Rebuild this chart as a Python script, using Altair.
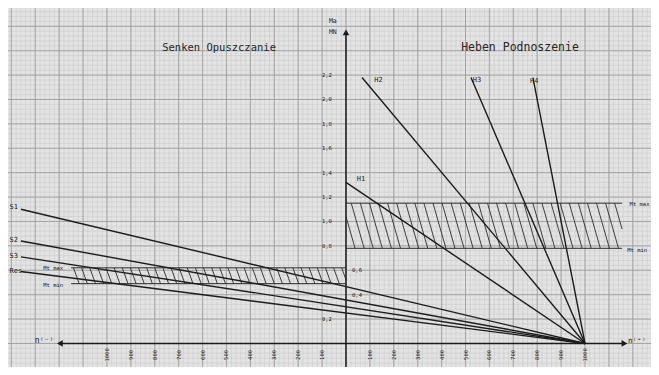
import altair as alt
import numpy as np
import pandas as pd

# ---- data ----
line_names = ["S1", "S2", "S3", "Res.", "H1", "H2", "H3", "H4"]
line_n0 = [-1360, -1360, -1360, -1360, 0, 67, 523, 782]
line_m0 = [1.10, 0.84, 0.71, 0.59, 1.32, 2.18, 2.18, 2.18]
line_n1 = [1000, 1000, 1000, 1000, 1000, 1000, 1000, 1000]
line_m1 = [0, 0, 0, 0, 0, 0, 0, 0]

# line labels
lab_text = ["S1", "S2", "S3", "Res.", "H1", "H2", "H3", "H4"]
lab_n = [-1408, -1408, -1408, -1408, 45, 118, 530, 770]
lab_m = [1.12, 0.85, 0.72, 0.595, 1.35, 2.16, 2.16, 2.15]

# bands (n from, n to, Mmin, Mmax)
band_s = [-1150, 0, 0.49, 0.62]
band_h = [0, 1155, 0.78, 1.15]
band_lab_text = ["Mt max", "Mt min", "Mt max", "Mt min"]
band_lab_n = [-1225, -1225, 1228, 1218]
band_lab_m = [0.62, 0.48, 1.14, 0.765]

# axis tick labels
x_tick_vals = [-1000, -900, -800, -700, -600, -500, -400, -300, -200, -100,
               100, 200, 300, 400, 500, 600, 700, 800, 900, 1000]
x_tick_labels = ["1000", "900", "800", "700", "600", "500", "400", "300", "200", "100",
                 "100", "200", "300", "400", "500", "600", "700", "800", "900", "1000"]
y_tick_vals = [2.2, 2.0, 1.8, 1.6, 1.4, 1.2, 1.0, 0.8, 0.6, 0.4, 0.2]
y_tick_labels = ["2,2", "2,0", "1,8", "1,6", "1,4", "1,2", "1,0", "0,8", "0,6", "0,4", "0,2"]
y_tick_side = [-1, -1, -1, -1, -1, -1, -1, -1, 1, 1, -1]

titles = ["Senken Opuszczanie", "Heben Podnoszenie"]
title_n = [-531, 728]
title_m = [2.42, 2.42]
title_size = [10.5, 11.5]

XDOM = [-1414, 1276]
YDOM = [-0.193, 2.75]
xs = alt.Scale(domain=XDOM, nice=False, zero=False)
ys = alt.Scale(domain=YDOM, nice=False, zero=False)
FONT = "DejaVu Sans Mono"
INK = "#1c1c1c"


def X(f):
    return alt.X(f"{f}:Q", scale=xs, axis=None)


def Y(f):
    return alt.Y(f"{f}:Q", scale=ys, axis=None)


# ---- graph paper ----
minor_x = pd.DataFrame({"n": np.arange(-1400, 1281, 20)})
major_x = pd.DataFrame({"n": np.arange(-1400, 1281, 100)})
minor_y = pd.DataFrame({"m": np.round(np.arange(-0.2, 2.76, 0.04), 3)})
major_y = pd.DataFrame({"m": np.round(np.arange(-0.2, 2.76, 0.2), 3)})

g1 = alt.Chart(minor_x).mark_rule(color="#c9c9c9", strokeWidth=0.55).encode(x=X("n"))
g2 = alt.Chart(minor_y).mark_rule(color="#c9c9c9", strokeWidth=0.55).encode(y=Y("m"))
g3 = alt.Chart(major_x).mark_rule(color="#9e9e9e", strokeWidth=0.9).encode(x=X("n"))
g4 = alt.Chart(major_y).mark_rule(color="#9e9e9e", strokeWidth=0.9).encode(y=Y("m"))


# ---- hatched bands ----
def hatch(n0, n1, mb, mt, d, step):
    rows = []
    t = n0 - d
    while t < n1:
        smin = max(0.0, (n0 - t) / d)
        smax = min(1.0, (n1 - t) / d)
        if smax > smin:
            rows.append(dict(a=t + d * smin, b=mt - (mt - mb) * smin,
                             a2=t + d * smax, b2=mt - (mt - mb) * smax))
        t += step
    return rows


hatch_df = pd.DataFrame(hatch(band_h[0], band_h[1], band_h[2], band_h[3], 54, 38)
                        + hatch(band_s[0], band_s[1], band_s[2], band_s[3], 24, 34))
hatch_layer = alt.Chart(hatch_df).mark_rule(color="#2a2a2a", strokeWidth=0.9).encode(
    x=X("a"), y=Y("b"), x2="a2:Q", y2="b2:Q")

edges_df = pd.DataFrame({
    "a": [band_s[0], band_s[0], band_h[0], band_h[0]],
    "a2": [band_s[1], band_s[1], band_h[1], band_h[1]],
    "b": [band_s[2], band_s[3], band_h[2], band_h[3]],
})
edges = alt.Chart(edges_df).mark_rule(color="#2a2a2a", strokeWidth=1.0).encode(
    x=X("a"), x2="a2:Q", y=Y("b"))

# ---- axes ----
axes_df = pd.DataFrame({"a": [-1197, 0], "a2": [1165, 0], "b": [0, -0.2], "b2": [0, 2.55]})
axes = alt.Chart(axes_df).mark_rule(color=INK, strokeWidth=1.5).encode(
    x=X("a"), x2="a2:Q", y=Y("b"), y2="b2:Q")

arrows_df = pd.DataFrame({"a": [0, -1197, 1165], "b": [2.55, 0, 0],
                          "s": ["triangle-up", "triangle-left", "triangle-right"]})
arrows = alt.Chart(arrows_df).mark_point(filled=True, color=INK, size=45, opacity=1).encode(
    x=X("a"), y=Y("b"), shape=alt.Shape("s:N", scale=None, legend=None))

# ---- characteristic lines ----
lines_df = pd.DataFrame({"name": line_names, "a": line_n0, "b": line_m0,
                         "a2": line_n1, "b2": line_m1})
lines = alt.Chart(lines_df).mark_rule(color=INK, strokeWidth=1.4).encode(
    x=X("a"), y=Y("b"), x2="a2:Q", y2="b2:Q")

# ---- texts ----
lab_df = pd.DataFrame({"t": lab_text, "a": lab_n, "b": lab_m})
labs = alt.Chart(lab_df).mark_text(font=FONT, fontSize=7, color=INK, align="left",
                                   baseline="middle").encode(x=X("a"), y=Y("b"), text="t:N")

blab_df = pd.DataFrame({"t": band_lab_text, "a": band_lab_n, "b": band_lab_m})
blabs = alt.Chart(blab_df).mark_text(font=FONT, fontSize=5.5, color=INK,
                                     baseline="middle").encode(x=X("a"), y=Y("b"), text="t:N")

xt_df = pd.DataFrame({"t": x_tick_labels, "a": x_tick_vals, "b": [-0.094] * len(x_tick_vals)})
xt = alt.Chart(xt_df).mark_text(font=FONT, fontSize=5.5, color=INK, angle=270,
                                baseline="middle").encode(x=X("a"), y=Y("b"), text="t:N")

yt_df = pd.DataFrame({"t": y_tick_labels, "b": y_tick_vals,
                      "a": [-80 if s < 0 else 46 for s in y_tick_side]})
yt = alt.Chart(yt_df).mark_text(font=FONT, fontSize=5.5, color=INK,
                                baseline="middle").encode(x=X("a"), y=Y("b"), text="t:N")

tt_df = pd.DataFrame({"t": titles, "a": title_n, "b": title_m, "s": title_size})
tt = alt.Chart(tt_df).mark_text(font=FONT, color="#262626",
                                baseline="middle").encode(
    x=X("a"), y=Y("b"), text="t:N", size=alt.Size("s:Q", scale=None, legend=None))

misc_df = pd.DataFrame({"t": ["Ma", "MN", "n⁽⁻⁾", "n⁽⁺⁾"],
                        "a": [-55, -55, -1222, 1180],
                        "b": [2.64, 2.55, 0.02, 0.02]})
misc1 = alt.Chart(misc_df.iloc[:2]).mark_text(font=FONT, fontSize=6.5, color=INK,
                                               baseline="middle").encode(x=X("a"), y=Y("b"), text="t:N")
misc2 = alt.Chart(misc_df.iloc[2:3]).mark_text(font=FONT, fontSize=8, color=INK, align="right",
                                                baseline="middle").encode(x=X("a"), y=Y("b"), text="t:N")
misc3 = alt.Chart(misc_df.iloc[3:4]).mark_text(font=FONT, fontSize=7.5, color=INK, align="left",
                                                baseline="middle").encode(x=X("a"), y=Y("b"), text="t:N")

chart = alt.layer(g1, g2, g3, g4, hatch_layer, edges, axes, arrows, lines,
                  labs, blabs, xt, yt, tt, misc1, misc2, misc3).properties(
    width=643, height=359, background="#e3e3e3", padding=0, autosize="none"
).configure_view(stroke=None)

chart.save("out.html", embed_options={"renderer": "svg", "actions": False})
